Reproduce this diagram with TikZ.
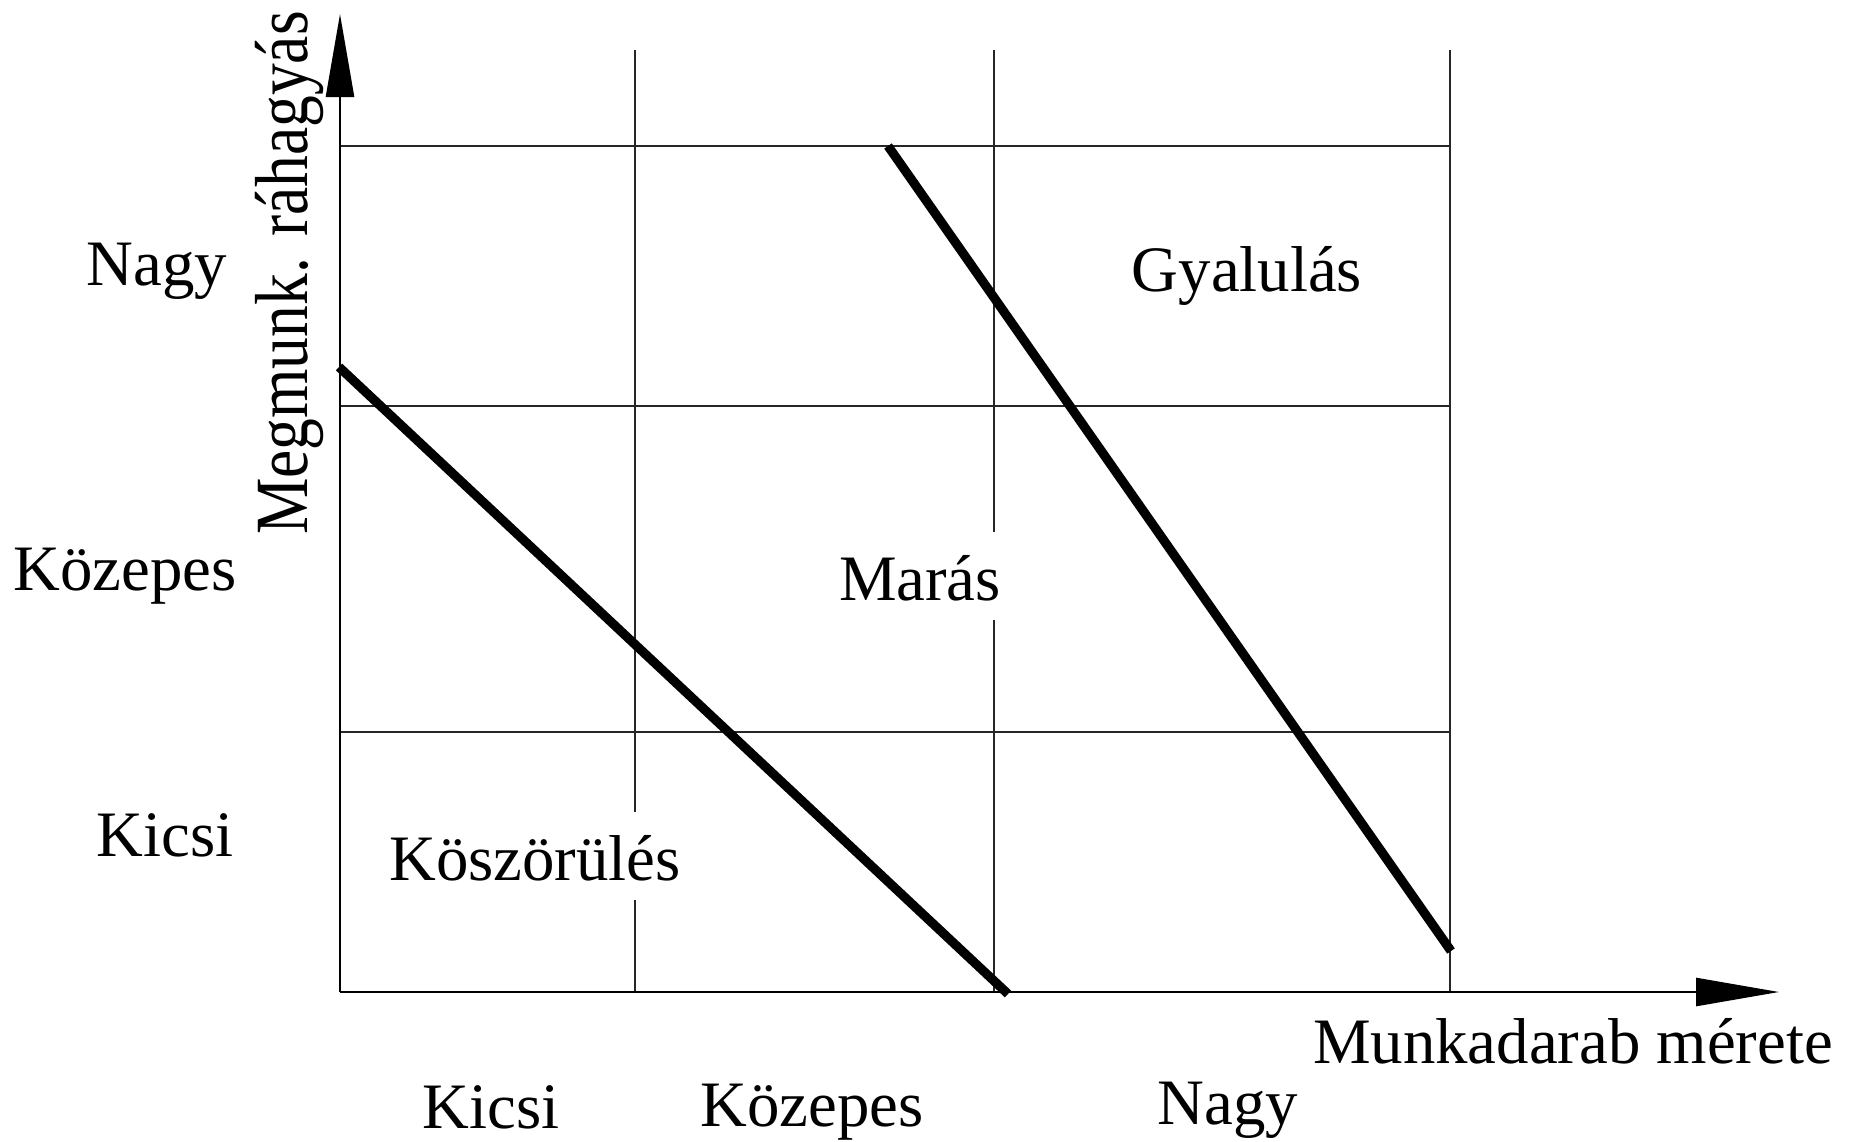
\documentclass[tikz,border=0pt]{standalone}
\usepackage{fontspec}
\setmainfont{Liberation Serif}
\usetikzlibrary{arrows.meta}
\tikzset{
  lbl/.style={font=\fontsize{32.4}{38}\selectfont, anchor=base, inner sep=0pt},
  boxed/.style={lbl, fill=white, text height=34pt, text depth=10pt, inner xsep=2pt},
  grid/.style={line width=0.7pt, black!85},
  thick/.style={line width=4.6pt, black},
  axis/.style={line width=1.3pt, black, -{Triangle[length=41.5pt,width=14pt]}}
}
\begin{document}
\begin{tikzpicture}[x=0.5pt,y=-0.5pt]
\useasboundingbox (0,0) rectangle (1852,1141);
% origin and axis tips
\coordinate (O) at (340,992);
\coordinate (ytip) at (340,14);
\coordinate (xtip) at (1779,992);
% grid
\foreach \yy in {146,406,732} \draw[grid] (340,\yy) -- (1450,\yy);
\foreach \xx in {635,994,1450} \draw[grid] (\xx,50) -- (\xx,992);
% region boundaries
\coordinate (a1) at (339,367);
\coordinate (a2) at (1008,994);
\coordinate (b1) at (888,146);
\coordinate (b2) at (1451,951);
\draw[thick] (a1) -- (a2);
\draw[thick] (b1) -- (b2);
% region labels
\node[boxed] (gy) at (1247,291) {Gyalulás};
\node[boxed] (ma) at (920,600) {Marás};
\node[boxed] (ko) at (535,880) {Köszörülés};
% axes
\draw[axis] (O) -- (ytip);
\draw[axis] (O) -- (xtip);
% axis titles
\node[lbl, rotate=90] (ytitle) at (307,273) {\scalebox{0.98}[1.16]{Megmunk. ráhagyás}};
\node[lbl] (xtitle) at (1573,1063) {Munkadarab mérete};
% y categories
\node[lbl] (yn) at (157,285) {Nagy};
\node[lbl] (yk) at (125,590) {Közepes};
\node[lbl] (ys) at (165,856) {Kicsi};
% x categories
\node[lbl] (xs) at (491,1128) {Kicsi};
\node[lbl] (xk) at (812,1126) {Közepes};
\node[lbl] (xn) at (1228,1124) {Nagy};
\end{tikzpicture}
\end{document}
